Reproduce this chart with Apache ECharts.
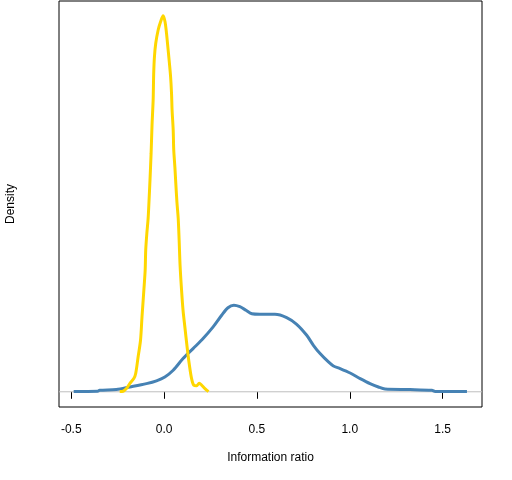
<!DOCTYPE html>
<html>
<head>
<meta charset="utf-8">
<script src="https://cdn.jsdelivr.net/npm/echarts@6/dist/echarts.min.js"></script>
<style>
html,body{margin:0;padding:0;background:#fff;}
#chart{width:512px;height:480px;}
</style>
</head>
<body>
<div id="chart"></div>
<script>
// Tick labels on the x axis
var xTicks = [-0.5, 0.0, 0.5, 1.0, 1.5];

// Yellow density (x, density)
var yellowX = [-0.239,-0.221,-0.203,-0.185,-0.163,-0.153,-0.140,-0.127,-0.119,-0.109,-0.102,-0.099,-0.093,-0.086,-0.081,-0.076,-0.070,-0.065,-0.059,-0.056,-0.052,-0.045,-0.032,-0.019,-0.005,0.005,0.013,0.020,0.027,0.035,0.040,0.043,0.049,0.052,0.058,0.063,0.069,0.076,0.081,0.086,0.094,0.102,0.112,0.124,0.135,0.148,0.160,0.175,0.189,0.203,0.220,0.239];
var yellowY = [0.004,0.009,0.056,0.144,0.232,0.320,0.612,0.905,1.315,1.784,2.135,2.487,2.780,3.044,3.366,3.717,4.186,4.684,5.123,5.592,5.884,6.120,6.353,6.499,6.605,6.499,6.295,6.060,5.826,5.533,5.241,4.947,4.596,4.244,3.951,3.659,3.336,3.044,2.663,2.223,1.784,1.432,1.134,0.782,0.496,0.232,0.114,0.105,0.149,0.114,0.056,0.004];

// Blue density (x, density)
var blueX = [-0.487,-0.358,-0.347,-0.257,-0.185,-0.095,-0.041,0.004,0.049,0.102,0.156,0.210,0.264,0.310,0.344,0.376,0.408,0.441,0.473,0.516,0.597,0.660,0.714,0.768,0.804,0.840,0.885,0.912,0.948,1.002,1.056,1.109,1.154,1.190,1.325,1.442,1.460,1.631];
var blueY = [0.004,0.009,0.026,0.039,0.084,0.144,0.193,0.260,0.378,0.583,0.759,0.935,1.139,1.344,1.476,1.520,1.494,1.432,1.371,1.362,1.362,1.304,1.186,0.993,0.817,0.671,0.524,0.453,0.408,0.330,0.232,0.144,0.084,0.049,0.040,0.026,0.005,0.004];

var xMin = -0.566, xMax = 1.712;
var yMin = -0.267, yMax = 6.863;

function pairs(xs, ys){ return xs.map(function(x,i){ return [x, ys[i]]; }); }

var font = '"Liberation Sans", Arial, sans-serif';
var chart = echarts.init(document.getElementById('chart'), null, {renderer:'canvas'});
chart.setOption({
  animation: false,
  backgroundColor: '#ffffff',
  grid: {left:59, right:30, top:1, bottom:73, outerBoundsMode:'none', containLabel:false,
    show:true, borderColor:'#000', borderWidth:1, backgroundColor:'transparent'},
  xAxis: {
    type:'value', min:xMin, max:xMax,
    name:'Information ratio', nameLocation:'middle', nameGap:45,
    nameTextStyle:{color:'#000', fontSize:12, fontFamily:font},
    axisLine:{show:false},
    axisTick:{show:true, customValues:xTicks, length:7, lineStyle:{color:'#000', width:1}},
    axisLabel:{show:true, customValues:xTicks, margin:17, color:'#000', fontSize:12, fontFamily:font,
      formatter:function(v){ return v.toFixed(1); }},
    splitLine:{show:false}
  },
  yAxis: {
    type:'value', min:yMin, max:yMax,
    name:'Density', nameLocation:'middle', nameGap:42, nameRotate:90,
    nameTextStyle:{color:'#000', fontSize:12, fontFamily:font},
    axisLine:{show:false}, axisTick:{show:false}, axisLabel:{show:false}, splitLine:{show:false}
  },
  series: [
    {type:'line', data:[[xMin,0],[xMax,0]], showSymbol:false, silent:true,
      lineStyle:{color:'#bebebe', width:1}},
    {type:'line', data:pairs(blueX, blueY), showSymbol:false, smooth:0.3, silent:true,
      lineStyle:{color:'#4682b4', width:3}},
    {type:'line', data:pairs(yellowX, yellowY), showSymbol:false, smooth:0.3, silent:true,
      lineStyle:{color:'#ffd700', width:3}}
  ]
});
</script>
</body>
</html>
